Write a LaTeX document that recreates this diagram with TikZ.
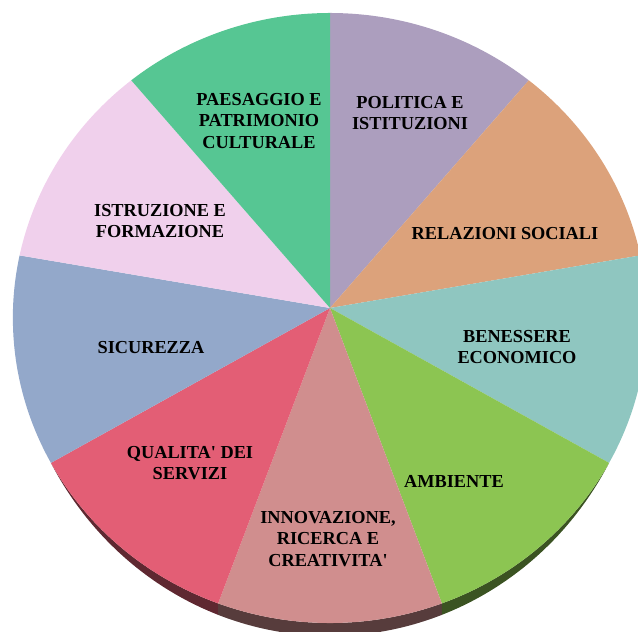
\documentclass[tikz,border=0pt]{standalone}
\usepackage{fontspec}
\setmainfont{Liberation Serif}[Ligatures=TeXOff]
\pgfmathdeclarefunction{rimx}{1}{\pgfmathparse{330+317*cos(#1)/(1+0.0328*sin(#1))}}
\pgfmathdeclarefunction{rimy}{1}{\pgfmathparse{308-304.7*sin(#1)/(1+0.0328*sin(#1))}}
\pgfmathdeclarefunction{sideh}{1}{\pgfmathparse{max(0,26*(-sin(#1)-0.5))}}
\definecolor{cPol}{RGB}{172,158,190}
\definecolor{cRel}{RGB}{220,162,123}
\definecolor{cBen}{RGB}{143,198,192}
\definecolor{cAmb}{RGB}{140,197,82}
\definecolor{cInn}{RGB}{208,142,142}
\definecolor{cQua}{RGB}{227,94,117}
\definecolor{cSic}{RGB}{147,168,202}
\definecolor{cIst}{RGB}{240,208,236}
\definecolor{cPae}{RGB}{86,198,147}
\tikzset{
  lbl/.style={align=center, text=black, font=\bfseries\fontsize{18.3}{21.4}\selectfont, inner sep=0pt},
}
\newcommand{\slicetop}[3]{%
  \fill[#1] (C) -- plot[domain=#2:#3, samples=40, variable=\t] ({rimx(\t)},{rimy(\t)}) -- cycle;}
\newcommand{\sliceside}[3]{%
  \fill[#1!42!black] plot[domain=#2:#3, samples=40, variable=\t] ({rimx(\t)},{rimy(\t)})
     -- plot[domain=#3:#2, samples=40, variable=\t] ({rimx(\t)},{rimy(\t)+sideh(\t)}) -- cycle;}
\begin{document}
\begin{tikzpicture}[x=1pt,y=-1pt]
\useasboundingbox (0,0) rectangle (638,632);
\coordinate (C) at (330,308);
% sides
\sliceside{cQua}{-150}{-110}
\sliceside{cInn}{-110}{-70}
\sliceside{cAmb}{-70}{-30}
% top faces
\slicetop{cPol}{50}{90}
\slicetop{cRel}{10}{50}
\slicetop{cBen}{-30}{10}
\slicetop{cAmb}{-70}{-30}
\slicetop{cInn}{-110}{-70}
\slicetop{cQua}{-150}{-110}
\slicetop{cSic}{170}{210}
\slicetop{cIst}{130}{170}
\slicetop{cPae}{90}{130}
% labels
\node[lbl] (pae) at (259,121) {PAESAGGIO E\\PATRIMONIO\\CULTURALE};
\node[lbl] (pol) at (410,113) {POLITICA E\\ISTITUZIONI};
\node[lbl] (rel) at (505,234) {RELAZIONI SOCIALI};
\node[lbl] (ben) at (517,347) {BENESSERE\\ECONOMICO};
\node[lbl] (amb) at (454,481) {AMBIENTE};
\node[lbl] (inn) at (328,539) {INNOVAZIONE,\\RICERCA E\\CREATIVITA'};
\node[lbl] (qua) at (190,463) {QUALITA' DEI\\SERVIZI};
\node[lbl] (sic) at (151,348) {SICUREZZA};
\node[lbl] (ist) at (160,221) {ISTRUZIONE E\\FORMAZIONE};
\end{tikzpicture}
\end{document}
